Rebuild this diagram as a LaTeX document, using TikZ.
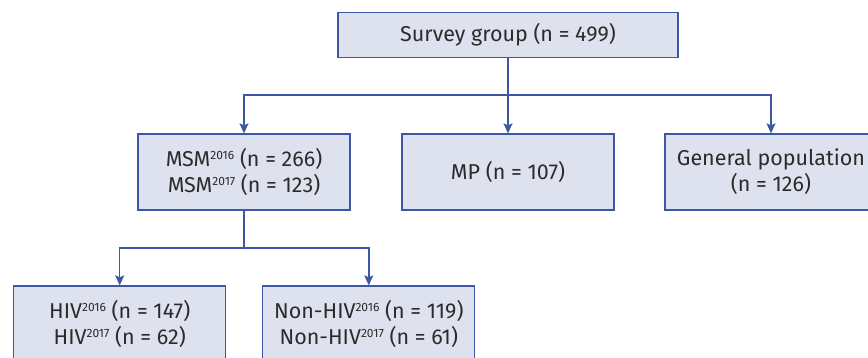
\documentclass[tikz,border=0pt]{standalone}
\usepackage{fontspec}
\setmainfont{Fira Sans}
\usetikzlibrary{arrows.meta}
\definecolor{boxfill}{HTML}{DEE2EE}
\definecolor{boxline}{HTML}{3D56A6}
\definecolor{txt}{HTML}{2B2B2B}
\newcommand{\yr}[1]{\raisebox{7pt}{\fontsize{12}{12}\selectfont #1}}
\tikzset{
  group/.style={draw=boxline, fill=boxfill, line width=1.3pt, text=txt,
    align=center, minimum width=212pt, minimum height=76pt, inner sep=0pt,
    font=\fontsize{21.5}{26}\selectfont},
  link/.style={draw=boxline, line width=1.4pt},
  linkarrow/.style={link, -{Stealth[length=10pt,width=9pt,inset=2pt]}}
}
\begin{document}
\begin{tikzpicture}[x=1pt,y=-1pt]
	\useasboundingbox (0,0) rectangle (868,357);

	\node[group, minimum width=340pt, minimum height=45pt] (survey) at (508,34.8) {Survey group (n = 499)};
	\node[group] (msm) at (244,172) {MSM\yr{2016} (n = 266)\\MSM\yr{2017} (n = 123)};
	\node[group] (mp) at (508,172) {MP (n = 107)};
	\node[group] (gen) at (771,172) {General population\\(n = 126)};
	\node[group] (hiv) at (119.7,324) {HIV\yr{2016} (n = 147)\\HIV\yr{2017} (n = 62)};
	\node[group] (nonhiv) at (368.8,324) {Non-HIV\yr{2016} (n = 119)\\Non-HIV\yr{2017} (n = 61)};

	\coordinate (split1) at (508,95);
	\coordinate (split2) at (244,248);

	\draw[link] (survey) -- (split1);
	\draw[linkarrow] (split1) -| (msm);
	\draw[linkarrow] (split1) -- (mp);
	\draw[linkarrow] (split1) -| (gen);

	\draw[link] (msm) -- (split2);
	\draw[linkarrow] (split2) -| (hiv);
	\draw[linkarrow] (split2) -| (nonhiv);
\end{tikzpicture}
\end{document}
